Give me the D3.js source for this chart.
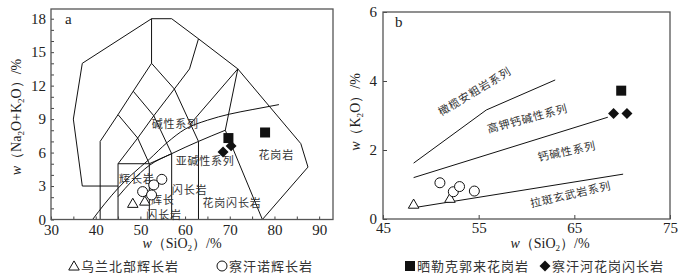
<!DOCTYPE html>
<html>
<head>
<meta charset="utf-8">
<script src="https://cdn.jsdelivr.net/npm/d3@7"></script>
<style>
  body { margin: 0; background: #fff; }
  text { font-family: "Liberation Serif", "DejaVu Serif", serif; fill: #222; }
  .cn { font-family: "Noto Sans CJK SC", sans-serif; fill: #333; }
</style>
</head>
<body>
<svg id="chart" width="678" height="280"></svg>
<script>
// ---- panel a: TAS boundaries (SiO2, Na2O+K2O) ----
const tasOutline = [[37, 3], [35, 9], [37, 14], [52.5, 18], [57, 18], [63, 16.2], [71.8, 13.5], [85.9, 6.8], [87.5, 4.7], [77.3, 0]];
const tasFieldLines = [
  [[37, 3], [45, 3]],
  [[41, 0], [41, 7], [45, 9.4], [48.4, 11.5], [52.5, 14], [52.5, 18]],
  [[45, 0], [45, 5], [52, 5], [52, 0]],
  [[45, 5], [49.4, 7.3], [52, 5]],
  [[45, 9.4], [49.4, 7.3], [53, 9.3], [57.6, 11.7], [61, 13.5], [63, 16.2]],
  [[48.4, 11.5], [53, 9.3], [57, 5.9], [57, 0]],
  [[52.5, 14], [57.6, 11.7], [63, 7], [63, 0]],
  [[52, 5], [57, 5.9]],
  [[69, 8], [71.8, 13.5]],
  [[69, 8], [77.3, 0]],
  [[61.2, 8.57], [71.8, 13.5]]
];
const alkalineCurve = [[39.3, 0], [42, 1.4], [45, 2.8], [48, 4.0], [52, 5.4], [56, 6.9], [60, 8.1], [65, 8.9], [70, 9.45], [75, 9.85], [81, 10.3]];
const subalkalineCurve = [[45, 2.05], [48, 3.4], [52, 4.85], [57, 5.9], [63, 7], [69, 8]];
const tasLabels = [
  { t: "碱性系列", x: 57.8, y: 8.2 },
  { t: "亚碱性系列", x: 64.5, y: 4.9 },
  { t: "花岗岩", x: 80.4, y: 5.4 },
  { t: "辉长岩", x: 49.2, y: 3.3 },
  { t: "闪长岩", x: 61.0, y: 2.3 },
  { t: "辉长", x: 55.0, y: 1.38 },
  { t: "闪长岩", x: 55.3, y: 0.05 },
  { t: "花岗闪长岩", x: 70.5, y: 1.1 }
];
const tasXTicks = [30, 40, 50, 60, 70, 80, 90];
const tasYTicks = [0, 3, 6, 9, 12, 15, 18];

// samples on panel a
const wulanTAS = [[48.3, 1.45], [51.0, 1.65]];
const chahannuoTAS = [[54.8, 3.6], [53.0, 3.1], [50.5, 2.5], [52.5, 2.2]];
const shailekeTAS = [[69.7, 7.3], [77.9, 7.8]];
const chahanheTAS = [[68.5, 6.05], [70.3, 6.6]];

// ---- panel b: K2O vs SiO2 ----
const kLines = [
  [[48.2, 1.62], [55.8, 3.16], [63, 4.03]],
  [[48.2, 1.2], [68.5, 2.95]],
  [[48.5, 0.34], [70.1, 1.3]]
];
const kLabels = [
  { t: "橄榄安粗岩系列", x: 54.8, y: 3.6, a: -31 },
  { t: "高钾钙碱性系列", x: 60.2, y: 2.8, a: -15 },
  { t: "钙碱性系列", x: 64.3, y: 1.85, a: -12 },
  { t: "拉斑玄武岩系列", x: 64.7, y: 0.6, a: -13 }
];
const kXTicks = [45, 55, 65, 75];
const kYTicks = [0, 2, 4, 6];

const wulanK = [[48.2, 0.43], [52.0, 0.6]];
const chahannuoK = [[50.95, 1.05], [52.35, 0.79], [53.0, 0.94], [54.55, 0.81]];
const shailekeK = [[69.9, 3.72]];
const chahanheK = [[69.1, 3.06], [70.5, 3.06]];

const legendItems = [
  { t: "乌兰北部辉长岩", s: "tri" },
  { t: "察汗诺辉长岩", s: "circ" },
  { t: "晒勒克郭来花岗岩", s: "sq" },
  { t: "察汗河花岗闪长岩", s: "dia" }
];

const svg = d3.select("#chart");

// marker drawing
function drawMarker(g, kind, x, y) {
  if (kind === "tri") {
    g.append("path").attr("d", d3.symbol(d3.symbolTriangle, 48)())
      .attr("transform", `translate(${x},${y + 1})`)
      .attr("fill", "#fff").attr("stroke", "#111").attr("stroke-width", 1);
  } else if (kind === "circ") {
    g.append("circle").attr("cx", x).attr("cy", y).attr("r", 5)
      .attr("fill", "#fff").attr("stroke", "#111").attr("stroke-width", 1);
  } else if (kind === "sq") {
    g.append("rect").attr("x", x - 5).attr("y", y - 5).attr("width", 10).attr("height", 10)
      .attr("fill", "#111");
  } else {
    g.append("path").attr("d", d3.symbol(d3.symbolSquare, 60)())
      .attr("transform", `translate(${x},${y}) rotate(45)`)
      .attr("fill", "#111");
  }
}

function frame(g, xr, yr) {
  g.append("rect")
    .attr("x", xr[0]).attr("y", yr[1])
    .attr("width", xr[1] - xr[0]).attr("height", yr[0] - yr[1])
    .attr("fill", "none").attr("stroke", "#555").attr("stroke-width", 1.3);
}

// subscripted label helper: parts = [[text, sub?, italic?, back-up?], ...]
function richText(sel, parts, size) {
  parts.forEach(p => {
    const ts = sel.append("tspan").text(p[0]);
    if (p[1]) ts.attr("font-size", size * 0.65).attr("dy", 3);
    else if (p[3]) ts.attr("dy", -3);
    if (p[2]) ts.attr("font-style", "italic");
  });
}

function styleAxis(a) {
  a.select(".domain").remove();
  a.selectAll("line").attr("stroke", "#444");
  a.selectAll("text").attr("font-size", 15).attr("fill", "#222")
    .attr("font-family", "Liberation Serif, serif");
}

// ================= panel a =================
{
  const xr = [51, 333], yr = [219.5, 9];
  const x = d3.scaleLinear().domain([30, 93.1]).range(xr);
  const y = d3.scaleLinear().domain([0, 18.87]).range(yr);
  const g = svg.append("g");
  const line = d3.line().x(d => x(d[0])).y(d => y(d[1]));
  const curve = d3.line().x(d => x(d[0])).y(d => y(d[1])).curve(d3.curveMonotoneX);

  g.append("path").attr("d", line(tasOutline)).attr("fill", "none").attr("stroke", "#111").attr("stroke-width", 1);
  tasFieldLines.forEach(l => g.append("path").attr("d", line(l)).attr("fill", "none").attr("stroke", "#111").attr("stroke-width", 1));
  [alkalineCurve, subalkalineCurve].forEach(l => g.append("path").attr("d", curve(l)).attr("fill", "none").attr("stroke", "#111").attr("stroke-width", 1));

  // axes with inward ticks
  const xAxis = d3.axisBottom(x).tickValues(d3.range(30, 93, 5)).tickSize(-3).tickPadding(5)
    .tickFormat(d => tasXTicks.includes(d) ? d : "");
  const yAxis = d3.axisLeft(y).tickValues(d3.range(0, 19, 1)).tickSize(-3).tickPadding(5)
    .tickFormat(d => tasYTicks.includes(d) ? d : "");
  styleAxis(g.append("g").attr("transform", `translate(0,${yr[0]})`).call(xAxis));
  styleAxis(g.append("g").attr("transform", `translate(${xr[0]},0)`).call(yAxis));
  frame(g, xr, yr);

  tasLabels.forEach(d => g.append("text").attr("class", "cn")
    .attr("x", x(d.x)).attr("y", y(d.y)).attr("text-anchor", "middle")
    .attr("font-size", 11).attr("letter-spacing", 0.8).text(d.t));

  g.append("text").attr("x", 65).attr("y", 24).attr("font-size", 15).text("a");

  wulanTAS.forEach(d => drawMarker(g, "tri", x(d[0]), y(d[1])));
  chahannuoTAS.forEach(d => drawMarker(g, "circ", x(d[0]), y(d[1])));
  shailekeTAS.forEach(d => drawMarker(g, "sq", x(d[0]), y(d[1])));
  chahanheTAS.forEach(d => drawMarker(g, "dia", x(d[0]), y(d[1])));

  const yl = g.append("text").attr("transform", "translate(21,117) rotate(-90)")
    .attr("text-anchor", "middle").attr("font-size", 14);
  richText(yl, [["w", false, true], ["（Na"], ["2", true], ["O+K", false, false, true], ["2", true], ["O）/%", false, false, true]], 14);

  const xl = g.append("text").attr("x", 182).attr("y", 248)
    .attr("text-anchor", "middle").attr("font-size", 14);
  richText(xl, [["w", false, true], ["（SiO"], ["2", true], ["）/%", false, false, true]], 14);
}

// ================= panel b =================
{
  const xr = [383, 670], yr = [219, 12];
  const x = d3.scaleLinear().domain([45, 75]).range(xr);
  const y = d3.scaleLinear().domain([0, 6]).range(yr);
  const g = svg.append("g");
  const line = d3.line().x(d => x(d[0])).y(d => y(d[1]));

  kLines.forEach(l => g.append("path").attr("d", line(l)).attr("fill", "none").attr("stroke", "#111").attr("stroke-width", 1));

  const xAxis = d3.axisBottom(x).tickValues(kXTicks).tickSize(-4).tickPadding(3).tickFormat(d3.format("d"));
  const yAxis = d3.axisLeft(y).tickValues(kYTicks).tickSize(-4).tickPadding(6).tickFormat(d3.format("d"));
  styleAxis(g.append("g").attr("transform", `translate(0,${yr[0]})`).call(xAxis));
  styleAxis(g.append("g").attr("transform", `translate(${xr[0]},0)`).call(yAxis));
  frame(g, xr, yr);

  kLabels.forEach(d => g.append("text").attr("class", "cn")
    .attr("transform", `translate(${x(d.x)},${y(d.y)}) rotate(${d.a})`)
    .attr("text-anchor", "middle").attr("font-size", 11).attr("letter-spacing", 0.8).text(d.t));

  g.append("text").attr("x", 395).attr("y", 27).attr("font-size", 15).text("b");

  wulanK.forEach(d => drawMarker(g, "tri", x(d[0]), y(d[1])));
  chahannuoK.forEach(d => drawMarker(g, "circ", x(d[0]), y(d[1])));
  shailekeK.forEach(d => drawMarker(g, "sq", x(d[0]), y(d[1])));
  chahanheK.forEach(d => drawMarker(g, "dia", x(d[0]), y(d[1])));

  const yl = g.append("text").attr("transform", "translate(360,112) rotate(-90)")
    .attr("text-anchor", "middle").attr("font-size", 14);
  richText(yl, [["w", false, true], ["（K"], ["2", true], ["O）/%", false, false, true]], 14);

  const xl = g.append("text").attr("x", 550).attr("y", 248)
    .attr("text-anchor", "middle").attr("font-size", 14);
  richText(xl, [["w", false, true], ["（SiO"], ["2", true], ["）/%", false, false, true]], 14);
}

// ================= legend =================
{
  const lx = [74, 222, 410, 545];
  const g = svg.append("g");
  legendItems.forEach((d, i) => {
    drawMarker(g, d.s, lx[i], 266);
    g.append("text").attr("class", "cn").attr("x", lx[i] + 7).attr("y", 270.5)
      .attr("font-size", 13).attr("letter-spacing", 1).text(d.t);
  });
}
</script>
</body>
</html>
